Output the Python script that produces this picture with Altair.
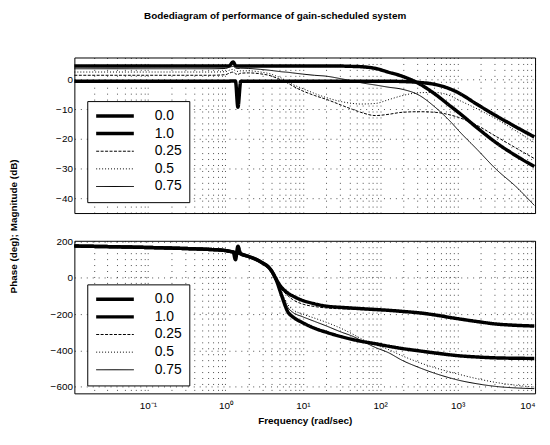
import altair as alt
import pandas as pd

# frequency grid (rad/sec)
freq = [0.0112, 0.1, 0.316, 0.631, 1.0, 1.12, 1.26, 1.35, 1.45, 1.58, 2.0, 2.82,
        3.98, 4.57, 5.25, 6.46, 7.41, 10, 14.1, 20, 31.6, 43.7, 56.2, 87.1, 126,
        191, 316, 513, 832, 1023, 1778, 3162, 5623, 9772]

series = ["0.0", "1.0", "0.25", "0.5", "0.75"]

# magnitude (dB)
mag_00 = [4.6, 4.6, 4.6, 4.6, 4.6, 4.7, 6.0, 4.8, 4.6, 4.6, 4.6, 4.6, 4.6, 4.6, 4.6, 4.6,
          4.6, 4.6, 4.6, 4.6, 4.6, 4.5, 4.4, 3.8, 2.6, 1.2, -1.3, -4.9, -9.2, -11.0,
          -16.2, -21.3, -25.6, -29.3]
mag_10 = [-0.5, -0.5, -0.5, -0.5, -0.5, -0.5, -0.4, -0.5, -9.3, -0.5, -0.5, -0.5, -0.5,
          -0.5, -0.5, -0.5, -0.5, -0.5, -0.5, -0.5, -0.5, -0.5, -0.5, -0.5, -0.5, -0.6,
          -0.9, -1.6, -3.3, -4.4, -8.3, -12.2, -15.9, -19.3]
mag_025 = [1.5, 1.5, 1.5, 1.5, 1.7, 2.2, 2.6, 2.0, 1.8, 2.2, 2.3, 2.0, 1.2, 0.6, -0.1,
           -1.2, -2.1, -3.8, -5.3, -6.6, -8.6, -10.0, -11.0, -12.1, -11.7, -11.0, -10.8,
           -11.0, -12.0, -12.7, -15.4, -19.2, -23.0, -26.6]
mag_05 = [2.6, 2.6, 2.6, 2.6, 2.7, 3.2, 3.5, 3.0, 2.8, 3.0, 3.0, 2.6, 1.8, 1.2, 0.6,
          -0.8, -1.6, -3.0, -4.6, -6.0, -7.4, -8.0, -8.2, -8.0, -6.8, -5.4, -4.4, -4.3,
          -5.6, -6.8, -9.8, -13.3, -17.2, -21.2]
mag_075 = [3.7, 3.7, 3.7, 3.7, 3.8, 4.2, 4.5, 4.0, 3.8, 3.9, 3.8, 3.5, 3.1, 2.9, 2.7,
           2.5, 2.3, 1.9, 1.5, 1.2, 0.3, -0.4, -1.0, -1.8, -2.5, -3.2, -5.2, -9.3, -14.5,
           -17.1, -23.5, -30.3, -36.0, -42.4]

# phase (deg)
ph_00 = [176, 168, 162, 157, 151, 147, 143, 141, 138, 133, 118, 90, 36, -10, -50, -85,
         -100, -125, -143, -156, -163, -167, -170, -175, -179, -185, -193, -205, -220,
         -226, -241, -255, -262, -266]
ph_10 = [176, 168, 162, 157, 151, 147, 143, 100, 175, 133, 118, 90, 36, -15, -90, -190,
         -215, -248, -278, -300, -325, -340, -350, -364, -377, -390, -403, -415, -426,
         -430, -437, -442, -444, -445]
ph_025 = [176, 168, 162, 157, 151, 147, 143, 141, 138, 133, 118, 90, 36, -12, -58, -100,
          -120, -145, -158, -166, -171, -173, -175, -177, -180, -186, -194, -206, -221,
          -227, -242, -256, -263, -267]
ph_05 = [176, 168, 162, 157, 151, 147, 143, 141, 138, 133, 118, 90, 36, -15, -75, -150,
         -175, -200, -222, -245, -280, -310, -335, -370, -395, -430, -467, -497, -522,
         -532, -557, -578, -593, -604]
ph_075 = [176, 168, 162, 157, 151, 147, 143, 141, 138, 133, 118, 90, 36, -15, -80, -165,
          -190, -215, -240, -265, -300, -322, -345, -385, -412, -455, -495, -528, -555,
          -565, -585, -600, -608, -612]

tick_values = [0.1, 1, 10, 100, 1000, 10000]
tick_labels = ["10\u207b\u00b9", "10\u2070", "10\u00b9", "10\u00b2", "10\u00b3", "10\u2074"]
mag_ticks = [-40, -30, -20, -10, 0]
phase_ticks = [-600, -400, -200, 0, 200]

title_text = "Bodediagram of performance of gain-scheduled system"
ylabel = "Phase (deg); Magnitude (dB)"
xlabel = "Frequency (rad/sec)"

mags = [mag_00, mag_10, mag_025, mag_05, mag_075]
phs = [ph_00, ph_10, ph_025, ph_05, ph_075]
rows = []
for name, m, p in zip(series, mags, phs):
    for f, mv, pv in zip(freq, m, p):
        rows.append({"freq": f, "series": name, "mag": mv, "phase": pv})
df = pd.DataFrame(rows)

minor_vals = []
for k in range(-2, 4):
    for d in range(1, 10):
        v = d * 10.0 ** k
        if 0.0112 <= v <= 10000:
            minor_vals.append(round(v, 6))
minor_vals.append(10000)

label_expr = " : ".join(
    f"datum.value == {v} ? '{t}'" for v, t in zip(tick_values, tick_labels)
) + " : ''"

xscale = alt.Scale(type="log", domain=[0.0112, 10000], nice=False)
sw = alt.Scale(type="ordinal", domain=series, range=[3.5, 3.5, 1, 1, 1])
sd = alt.Scale(domain=series, range=[[1, 0], [1, 0], [3, 1.5], [1, 2], [1, 0]])

def legend():
    return alt.Legend(title=None, orient="none", legendX=13, legendY=44,
                      symbolType="stroke", symbolSize=1444, symbolStrokeColor="black",
                      clipHeight=16,
                      labelFontSize=14, labelFont="Liberation Sans", labelOffset=19,
                      labelColor="black", padding=7, rowPadding=1.8,
                      fillColor="white", strokeColor="black")

top = alt.Chart(df).mark_line(interpolate="monotone", color="black").encode(
    x=alt.X("freq:Q", scale=xscale,
            axis=alt.Axis(values=minor_vals, labels=False, title=None, grid=True)),
    y=alt.Y("mag:Q", scale=alt.Scale(domain=[-45, 7.5], nice=False, zero=False),
            axis=alt.Axis(values=mag_ticks, title=ylabel, titleAngle=270,
                          titleX=-61, titleY=170, titleAlign="center",
                          titleBaseline="middle", titleFontWeight="bold")),
    strokeWidth=alt.StrokeWidth("series:N", scale=sw, legend=legend()),
    strokeDash=alt.StrokeDash("series:N", scale=sd, legend=legend()),
).properties(width=465, height=157)

bottom = alt.Chart(df).mark_line(interpolate="monotone", color="black").encode(
    x=alt.X("freq:Q", scale=xscale,
            axis=alt.Axis(values=minor_vals, labelExpr=label_expr, title=xlabel,
                          grid=True, labelPadding=7, titlePadding=5, labelFlush=True,
                          titleFontWeight="bold")),
    y=alt.Y("phase:Q", scale=alt.Scale(domain=[-638, 205], nice=False, zero=False),
            axis=alt.Axis(values=phase_ticks, title=None)),
    strokeWidth=alt.StrokeWidth("series:N", scale=sw, legend=legend()),
    strokeDash=alt.StrokeDash("series:N", scale=sd, legend=legend()),
).properties(width=465, height=154)

chart = alt.vconcat(top, bottom, spacing=28, bounds="flush").resolve_legend(
    strokeWidth="independent", strokeDash="independent"
).properties(
    title=alt.TitleParams(title_text, font="Liberation Sans", fontSize=10,
                          fontWeight="bold", anchor="middle", frame="bounds",
                          offset=34, color="black"),
    padding={"left": 0, "top": 0, "right": 0, "bottom": 0},
).configure_view(stroke="black", strokeWidth=1).configure_axis(
    gridColor="black", gridDash=[1, 5], gridOpacity=0.7, gridWidth=1,
    labelFont="Liberation Sans", labelFontSize=10, labelColor="black",
    titleFont="Liberation Sans", titleFontSize=10, titleColor="black",
    domain=False, ticks=False,
)

chart.save("out.html", embed_options={"renderer": "svg", "actions": False})
